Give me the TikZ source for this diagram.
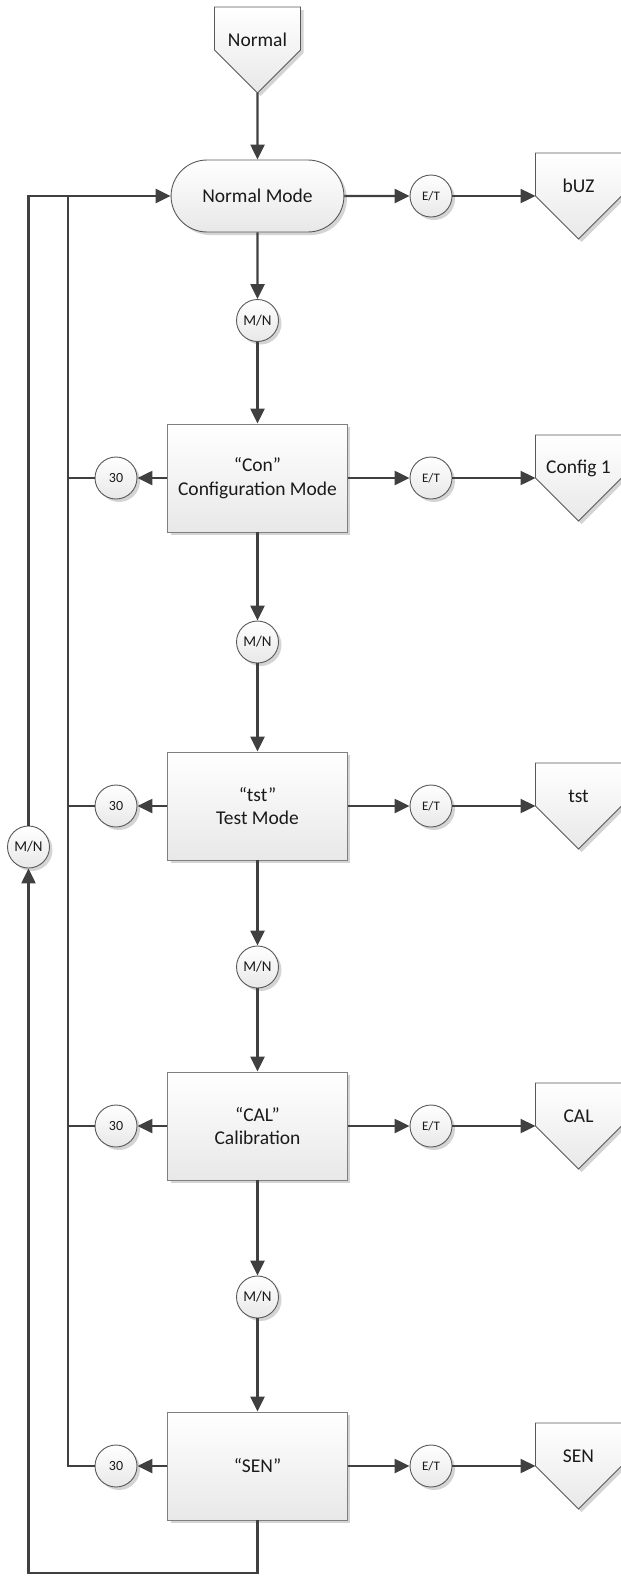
\documentclass[tikz,border=0pt]{standalone}
\usepackage{fontspec}
\setmainfont{Carlito}
\usetikzlibrary{calc,arrows.meta,shadows,shapes.misc}

\definecolor{wirecol}{HTML}{404040}
\definecolor{edgecol}{HTML}{7F7F7F}
\definecolor{ringcol}{HTML}{595959}
\definecolor{shadecol}{HTML}{D4D4D4}
\definecolor{fillbot}{HTML}{E8E8E8}
\definecolor{textcol}{HTML}{1A1A1A}

\tikzset{
  wire/.style={draw=wirecol, line width=2.4pt, line join=miter},
  arr/.style={wire, -{Triangle[length=15pt,width=14pt]}},
  soft shadow/.style={drop shadow={shadow xshift=3pt, shadow yshift=-3pt, fill=shadecol, opacity=1}},
  modebox/.style={draw=edgecol, line width=0.9pt, rectangle,
    minimum width=179.5pt, minimum height=108pt,
    top color=white, bottom color=fillbot, soft shadow,
    align=center, text=textcol, font=\fontsize{19.5}{23.5}\selectfont},
  termbox/.style={draw=ringcol, line width=0.9pt, rounded rectangle,
    minimum width=179.5pt, minimum height=72pt,
    top color=white, bottom color=fillbot, soft shadow,
    text=textcol, font=\fontsize{19.5}{23.5}\selectfont},
  ring/.style={draw=ringcol, line width=0.9pt, circle, inner sep=0pt,
    minimum size=42pt, top color=white, bottom color=fillbot, soft shadow,
    text=textcol},
  mnring/.style={ring, font=\fontsize{15}{17}\selectfont},
  tring/.style={ring, font=\fontsize{14}{16}\selectfont},
  etring/.style={ring, font=\fontsize{13}{15}\selectfont},
  offedge/.style={draw=ringcol, line width=0.9pt, top color=white, bottom color=fillbot},
  offtext/.style={inner sep=0pt, text=textcol, font=\fontsize{19.5}{23.5}\selectfont},
}

% off-page reference: name, centre x, y of the side corners, label
\newcommand\offpage[4]{%
  \fill[shadecol] (#2-40,#3-40) -- ++(86,0) -- ++(0,43) -- ++(-43,43) -- ++(-43,-43) -- cycle;
  \draw[offedge] (#2-43,#3-43) -- ++(86,0) -- ++(0,43) -- ++(-43,43) -- ++(-43,-43) -- cycle;
  \node[offtext] (#1) at (#2,#3-10) {#4};
  \coordinate (#1-in) at (#2-43,#3);
  \coordinate (#1-tip) at (#2,#3+43);
}

\begin{document}
\begin{tikzpicture}[x=1pt, y=-1pt]
\useasboundingbox (0,0) rectangle (621,1593);

% entry reference
\offpage{src}{257.5}{50}{Normal}

% main column of modes
\node[termbox] (nm)  at (257.5,196)  {Normal Mode};
\node[mnring]  (mn1) at (257.5,320.5) {M/N};
\node[modebox] (con) at (257.5,478)  {“Con”\\Configuration Mode};
\node[mnring]  (mn2) at (257.5,642)  {M/N};
\node[modebox] (tst) at (257.5,806)  {“tst”\\Test Mode};
\node[mnring]  (mn3) at (257.5,967)  {M/N};
\node[modebox] (cal) at (257.5,1126) {“CAL”\\Calibration};
\node[mnring]  (mn4) at (257.5,1297) {M/N};
\node[modebox] (sen) at (257.5,1466) {“SEN”};

% timeout circles on the left
\node[tring] (t1) at (116,478)  {30};
\node[tring] (t2) at (116,806)  {30};
\node[tring] (t3) at (116,1126) {30};
\node[tring] (t4) at (116,1466) {30};

% E/T circles on the right
\node[etring] (e0) at (431,196)  {E/T};
\node[etring] (e1) at (431,478)  {E/T};
\node[etring] (e2) at (431,806)  {E/T};
\node[etring] (e3) at (431,1126) {E/T};
\node[etring] (e4) at (431,1466) {E/T};

% outgoing references
\offpage{buz}{578.5}{196}{bUZ}
\offpage{cfg}{578.5}{478}{Config 1}
\offpage{tsto}{578.5}{806}{tst}
\offpage{calo}{578.5}{1126}{CAL}
\offpage{seno}{578.5}{1466}{SEN}

% return circle on the far left
\node[mnring] (mnl) at (28.5,847) {M/N};

% junction points of the return lines
\coordinate (jtop) at (68,196);
\coordinate (jbot) at (28.5,1573);

% downward flow
\draw[arr] (src-tip) -- (nm);
\draw[arr] (nm) -- (mn1);
\draw[arr] (mn1) -- (con);
\draw[arr] (con) -- (mn2);
\draw[arr] (mn2) -- (tst);
\draw[arr] (tst) -- (mn3);
\draw[arr] (mn3) -- (cal);
\draw[arr] (cal) -- (mn4);
\draw[arr] (mn4) -- (sen);

% E/T branches
\draw[arr] (nm) -- (e0);   \draw[arr] (e0) -- (buz-in);
\draw[arr] (con) -- (e1);  \draw[arr] (e1) -- (cfg-in);
\draw[arr] (tst) -- (e2);  \draw[arr] (e2) -- (tsto-in);
\draw[arr] (cal) -- (e3);  \draw[arr] (e3) -- (calo-in);
\draw[arr] (sen) -- (e4);  \draw[arr] (e4) -- (seno-in);

% timeout branches back to Normal Mode
\draw[arr] (con) -- (t1);
\draw[arr] (tst) -- (t2);
\draw[arr] (cal) -- (t3);
\draw[arr] (sen) -- (t4);
\draw[wire] (t1) -- (t1 -| jtop);
\draw[wire] (t2) -- (t2 -| jtop);
\draw[wire] (t3) -- (t3 -| jtop);
\draw[arr] (t4) -| (jtop) -- (nm);

% M/N loop from the last mode
\draw[arr] (sen) |- (jbot) -- (mnl);
\draw[wire] (mnl) |- (jtop);
\end{tikzpicture}
\end{document}
